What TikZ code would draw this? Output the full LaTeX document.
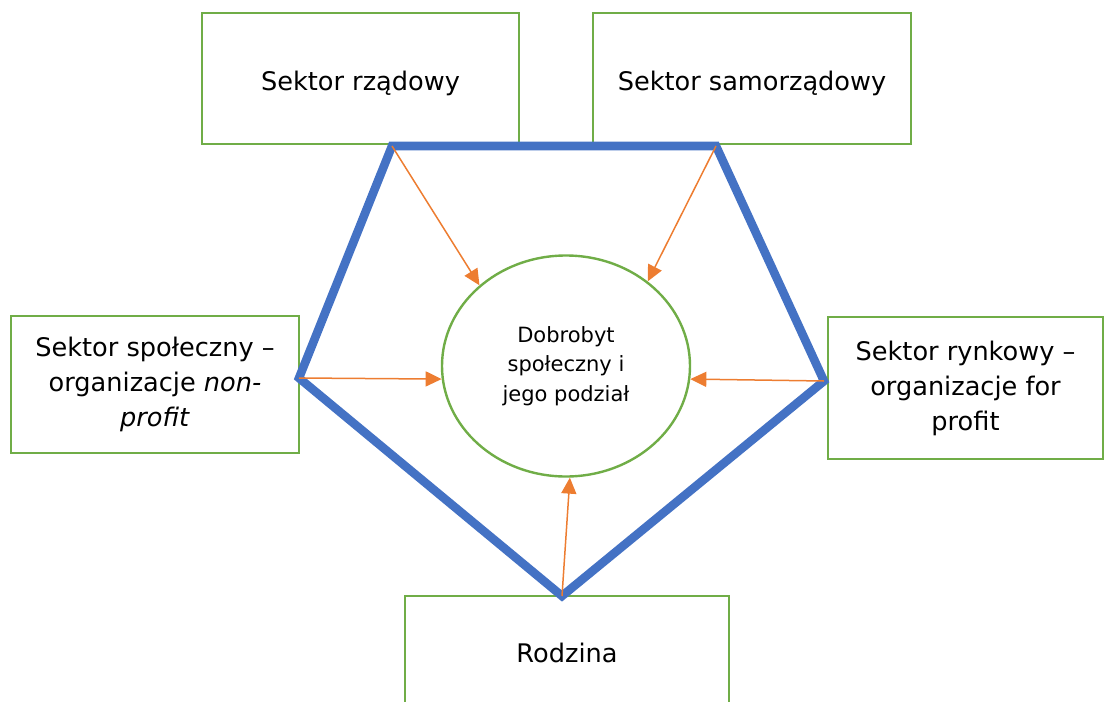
\documentclass[tikz,border=0pt]{standalone}
\usepackage{fontspec}
\setmainfont{DejaVu Sans}
\usetikzlibrary{shapes.geometric,arrows.meta,positioning}
\definecolor{boxgreen}{HTML}{70AD47}
\definecolor{linkblue}{HTML}{4472C4}
\definecolor{flowor}{HTML}{ED7D31}
\tikzset{
  sector/.style={draw=boxgreen, line width=1pt, fill=white, align=center,
    inner sep=0pt, font=\fontsize{12.8}{17.5}\selectfont},
  welfare/.style={ellipse, draw=boxgreen, line width=1.2pt, align=center,
    inner sep=0pt, minimum width=124pt, minimum height=110.5pt,
    font=\fontsize{10.5}{14.8}\selectfont},
  textdrop/.style={execute at begin node={\rule{0pt}{#1}}},
  link/.style={draw=linkblue, line width=4.3pt, line join=miter},
  flow/.style={draw=flowor, line width=0.75pt,
    -{Triangle[length=8pt,width=7.5pt]}}
}
\begin{document}
\begin{tikzpicture}[x=0.5pt,y=-0.5pt]
    \useasboundingbox (0,0) rectangle (1104,702);
    \clip (0,0) rectangle (1104,702);
    % sectors
    \node [sector, textdrop=14.5pt, minimum width=158.5pt, minimum height=65.5pt] (rzad) at (360.5,78.5) {Sektor rządowy};
    \node [sector, textdrop=14.5pt, minimum width=159pt, minimum height=65.5pt] (samo) at (752,78.5) {Sektor samorządowy};
    \node [sector, textdrop=15.7pt, minimum width=144pt, minimum height=68.5pt] (spol) at (155,384.5) {Sektor społeczny –\\organizacje \textit{non-}\\\textit{profit}};
    \node [sector, textdrop=15.7pt, minimum width=137.5pt, minimum height=71pt] (rynek) at (965.5,388) {Sektor rynkowy –\\organizacje for\\profit};
    \node [sector, minimum width=162pt, minimum height=57pt] (rodz) at (567,653) {Rodzina};
    % welfare
    \node [welfare, textdrop=13pt] (dob) at (566,366) {Dobrobyt\\społeczny i\\jego podział};
    % pentagon
    \coordinate (p1) at (392,146);
    \coordinate (p2) at (716,146);
    \coordinate (p3) at (824,381);
    \coordinate (p4) at (562,596);
    \coordinate (p5) at (299,378);
    \draw [link] (p1) -- (p2) -- (p3) -- (p4) -- (p5) -- cycle;
    % flows
    \draw [flow] (p1) -- (dob.137);
    \draw [flow] (p2) -- (dob.46);
    \draw [flow] (p5) -- (dob.186);
    \draw [flow] (p3) -- (dob.-6);
    \draw [flow] (p4) -- (dob.272);
\end{tikzpicture}
\end{document}
